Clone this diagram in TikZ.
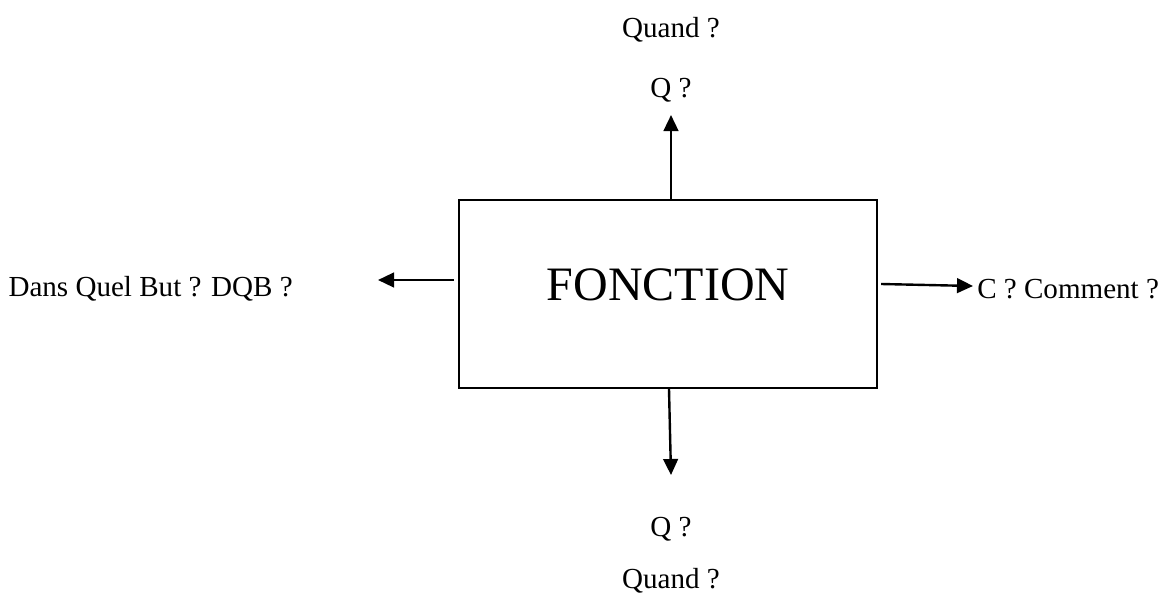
\documentclass[tikz,border=0pt]{standalone}
\usepackage{fontspec}
\setmainfont{Liberation Serif}
\usetikzlibrary{arrows.meta}
\begin{document}
\begin{tikzpicture}[x=0.75pt,y=-0.75pt,
  lbl/.style={font=\fontsize{21.8}{26}\selectfont, inner sep=0pt},
  conn/.style={line width=1.8pt, -{Triangle[length=12pt,width=11pt]}},
  boxst/.style={draw, line width=1.8pt, minimum width=418*0.75pt, minimum height=188*0.75pt, inner sep=0pt}]
\useasboundingbox (0,0) rectangle (1166,603);
\node[boxst] (f) at (668,294) {};
\node[font=\fontsize{36}{42}\selectfont, inner sep=0pt, anchor=base] (ft) at (668,300) {FONCTION};
\node[lbl, anchor=base] (quandt) at (671,37) {Quand ?};
\node[lbl, anchor=base] (qt) at (671,97) {Q ?};
\node[lbl, anchor=base] (qb) at (671,536) {Q ?};
\node[lbl, anchor=base] (quandb) at (671,588) {Quand ?};
\node[lbl, anchor=base east] (dqb) at (293,296) {Dans Quel But ? DQB ?};
\node[lbl, anchor=base west] (com) at (977,298) {C ? Comment ?};
\coordinate (lt) at (378,280);
\coordinate (tt) at (671,115);
\coordinate (bt) at (671,475);
\coordinate (rt) at (973,286);
\draw[conn] (f.north -| tt) -- (tt);
\draw[conn] ([xshift=-2*0.75pt]f.south -| bt) -- (bt);
\draw[conn] ([xshift=-4*0.75pt]f.west |- lt) -- (lt);
\draw[conn] ([xshift=3*0.75pt,yshift=2*0.75pt]f.east |- rt) -- (rt);
\end{tikzpicture}
\end{document}
